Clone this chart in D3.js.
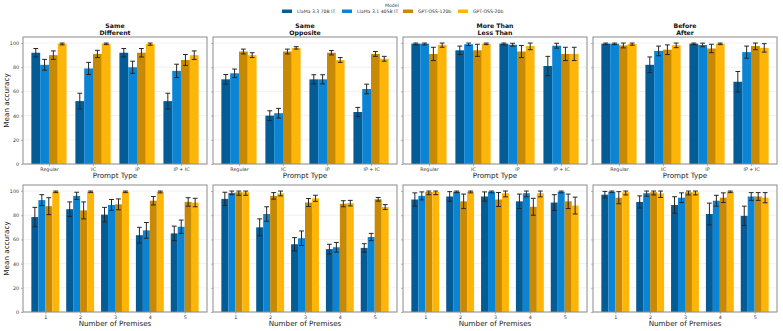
<!DOCTYPE html>
<html>
<head>
<meta charset="utf-8">
<script src="https://cdn.jsdelivr.net/npm/d3@7"></script>
<style>
  body { margin: 0; background: #fff; }
  text { font-family: "DejaVu Sans", sans-serif; }
</style>
</head>
<body>
<div id="chart"></div>
<script>
// models (hue) and colours
var models = ["LlaMa 3.3 70B IT", "LlaMa 3.1 405B IT", "GPT-OSS-120b", "GPT-OSS-20b"]
var modelColors = ["#045c96", "#0b84d3", "#c88a04", "#fdb508"]

// x categories
var promptTypes = ["Regular", "IC", "IP", "IP + IC"]
var premises = ["1", "2", "3", "4", "5"]

// panel titles (two lines each)
var taskTitles = [["Same", "Different"], ["Same", "Opposite"], ["More Than", "Less Than"], ["Before", "After"]]
var yTicks = [0, 20, 40, 60, 80, 100]

// values: one row per model, each cell = [mean, error half-width]
var sameDiffPrompt = [
  [[92, 3.5], [52, 6.5], [92, 3.5], [52, 6.5]],
  [[82, 4.5], [79, 5], [80, 5], [77, 5.5]],
  [[90, 3.5], [91, 3], [92, 3.5], [86, 4.5]],
  [[99.5, 1], [99.5, 0.8], [99.2, 1], [90, 3.5]]
]
var sameOppPrompt = [
  [[70, 4], [40, 4], [70, 3.8], [43, 3.8]],
  [[75, 3.5], [42, 4], [70, 3.8], [62, 4]],
  [[93, 2], [93, 2], [92, 1.8], [91, 2]],
  [[90, 2], [96, 1], [86, 2], [87, 2]]
]
var moreLessPrompt = [
  [[99.5, 1], [94, 3.5], [99.5, 1], [81, 8]],
  [[99.5, 1], [99, 1], [98.6, 1.2], [97.8, 2]],
  [[91, 5.5], [94, 5], [93, 5], [91, 5.5]],
  [[98.5, 2], [99.5, 0.8], [97.5, 3], [91, 5.5]]
]
var beforeAfterPrompt = [
  [[99.5, 0.8], [82, 6.5], [99.5, 0.8], [68, 8.5]],
  [[99.5, 0.8], [93.5, 4], [98.4, 1.5], [92.5, 5]],
  [[98, 2], [94.5, 4], [95.5, 3.5], [97.5, 3]],
  [[99.2, 1], [98.2, 2], [99.5, 0.8], [96, 3.5]]
]
var sameDiffPremises = [
  [[78.5, 8], [85, 6], [80.5, 6], [63.5, 6.5], [65, 6]],
  [[92.5, 4.5], [96, 3], [88.5, 4.5], [67.5, 6.5], [70.5, 5.5]],
  [[87.5, 7], [84, 7], [89, 4.5], [92, 3.5], [91, 3.5]],
  [[99.5, 0.8], [99.5, 0.8], [99.5, 0.8], [99.5, 1], [90.5, 3.5]]
]
var sameOppPremises = [
  [[93.5, 5.5], [70, 7], [56, 5.5], [52, 4], [53, 3.5]],
  [[98.5, 1.5], [81, 6], [61, 6], [53.5, 4], [62, 3]],
  [[99, 2.5], [96, 2.7], [90.5, 3.3], [89.5, 2.5], [93.2, 1.5]],
  [[99, 2.5], [98, 2], [94, 2.5], [90, 2.3], [86.8, 2]]
]
var moreLessPremises = [
  [[93, 5.5], [95.5, 4], [95.5, 3.8], [91.5, 6], [90.5, 6.5]],
  [[96, 3.3], [99.5, 0.8], [99.5, 1], [98.2, 3], [99.5, 1]],
  [[99.2, 2.2], [91.5, 6], [93, 5.8], [87, 7], [91.5, 6]],
  [[99.2, 2.2], [99.5, 1], [98.2, 3], [98.2, 3], [88, 7]]
]
var beforeAfterPremises = [
  [[97, 2.7], [91, 5], [88.5, 6.8], [81, 9], [79.5, 8]],
  [[99.5, 0.8], [98.2, 2.5], [94.5, 4], [92, 4.5], [95.5, 3.2]],
  [[94.5, 5], [99, 2.2], [99, 2.2], [94.5, 4], [95.5, 3.2]],
  [[99, 2.2], [98, 3.3], [99, 2.2], [99.5, 0.8], [94.5, 4.2]]
]

var promptPanels = [sameDiffPrompt, sameOppPrompt, moreLessPrompt, beforeAfterPrompt]
var premisePanels = [sameDiffPremises, sameOppPremises, moreLessPremises, beforeAfterPremises]

// layout
var W = 783, H = 331
var panelLefts = [23, 213, 403, 593]
var panelW = 184
var rows = [
  {top: 37, bottom: 164, cats: promptTypes, panels: promptPanels, xlabel: "Prompt Type", titles: true},
  {top: 185, bottom: 312, cats: premises, panels: premisePanels, xlabel: "Number of Premises", titles: false}
]

var svg = d3.select("#chart").append("svg")
  .attr("width", W)
  .attr("height", H)

// legend on top
var legend = svg.append("g")
legend.append("text")
  .attr("x", 392).attr("y", 7)
  .attr("text-anchor", "middle")
  .style("font-size", "4.6px").style("fill", "#333")
  .text("Model")
var legendX = [282, 342, 403, 458]
models.forEach(function(m, i) {
  legend.append("rect")
    .attr("x", legendX[i]).attr("y", 9.5)
    .attr("width", 10).attr("height", 3.5)
    .style("fill", modelColors[i])
  legend.append("text")
    .attr("x", legendX[i] + 15).attr("y", 13)
    .style("font-size", "4.6px").style("fill", "#333")
    .text(m)
})

rows.forEach(function(row, r) {
  var n = row.cats.length
  // matplotlib style 5% margins around the bars
  var span = n - 0.2
  var x = d3.scaleLinear()
    .domain([-0.4 - span * 0.05, n - 0.6 + span * 0.05])
  var y = d3.scaleLinear()
    .domain([0, 105])
    .range([row.bottom, row.top])

  row.panels.forEach(function(panel, p) {
    var left = panelLefts[p]
    x.range([left, left + panelW])
    var g = svg.append("g")

    // grid
    g.selectAll("line.grid")
      .data(yTicks)
      .enter()
      .append("line")
        .attr("x1", left).attr("x2", left + panelW)
        .attr("y1", function(d) { return y(d) })
        .attr("y2", function(d) { return y(d) })
        .style("stroke", "#e8e8e8")
        .style("stroke-width", 0.6)

    // bars: flatten model x category
    var bars = []
    panel.forEach(function(series, m) {
      series.forEach(function(v, c) {
        bars.push({m: m, c: c, mean: v[0], err: v[1]})
      })
    })
    var bw = x(0.2) - x(0)
    g.selectAll("rect.bar")
      .data(bars)
      .enter()
      .append("rect")
        .attr("x", function(d) { return x(d.c - 0.4 + d.m * 0.2) })
        .attr("y", function(d) { return y(d.mean) })
        .attr("width", bw)
        .attr("height", function(d) { return y(0) - y(d.mean) })
        .style("fill", function(d) { return modelColors[d.m] })

    // error bars
    var hi = function(d) { return y(Math.min(100, d.mean + d.err)) }
    var lo = function(d) { return y(d.mean - d.err) }
    var cx = function(d) { return x(d.c - 0.3 + d.m * 0.2) }
    var eb = g.selectAll("g.err")
      .data(bars)
      .enter()
      .append("g")
        .style("stroke", "#262626")
        .style("stroke-width", 1)
    eb.append("line")
      .attr("x1", cx).attr("x2", cx)
      .attr("y1", hi).attr("y2", lo)
    ;[hi, lo].forEach(function(fy) {
      eb.append("line")
        .attr("x1", function(d) { return cx(d) - 2.4 })
        .attr("x2", function(d) { return cx(d) + 2.4 })
        .attr("y1", fy).attr("y2", fy)
    })

    // y axis (labels only in first column)
    var yAxis = g.append("g")
      .attr("transform", "translate(" + left + ",0)")
      .call(d3.axisLeft(y).tickValues(yTicks).tickSize(2).tickPadding(2)
        .tickFormat(p == 0 ? d3.format("d") : ""))
    yAxis.select(".domain").remove()
    yAxis.selectAll("line").style("stroke", "#888").style("stroke-width", 0.6)
    yAxis.selectAll("text").style("font-size", "4.8px").style("fill", "#333")

    // x axis
    var xAxis = g.append("g")
      .attr("transform", "translate(0," + row.bottom + ")")
      .call(d3.axisBottom(x).tickValues(d3.range(n)).tickSize(2).tickPadding(1.5)
        .tickFormat(function(i) { return row.cats[i] }))
    xAxis.select(".domain").remove()
    xAxis.selectAll("line").style("stroke", "#888").style("stroke-width", 0.6)
    xAxis.selectAll("text").style("font-size", "4.8px").style("fill", "#333")

    // frame
    g.append("rect")
      .attr("x", left).attr("y", row.top)
      .attr("width", panelW).attr("height", row.bottom - row.top)
      .style("fill", "none")
      .style("stroke", "#8c8c8c")
      .style("stroke-width", 1)

    // x label
    g.append("text")
      .attr("x", left + panelW / 2).attr("y", row.bottom + 14)
      .attr("text-anchor", "middle")
      .style("font-size", "7.2px").style("fill", "#222")
      .text(row.xlabel)

    // titles
    if (row.titles) {
      taskTitles[p].forEach(function(t, k) {
        g.append("text")
          .attr("x", left + panelW / 2).attr("y", 28 + k * 6.5)
          .attr("text-anchor", "middle")
          .style("font-size", "6.2px").style("font-weight", "bold").style("fill", "#111")
          .text(t)
      })
    }
  })

  // y label
  svg.append("text")
    .attr("transform", "translate(9," + (row.top + row.bottom) / 2 + ") rotate(-90)")
    .attr("text-anchor", "middle")
    .style("font-size", "7.2px").style("fill", "#222")
    .text("Mean accuracy")
})
</script>
</body>
</html>
